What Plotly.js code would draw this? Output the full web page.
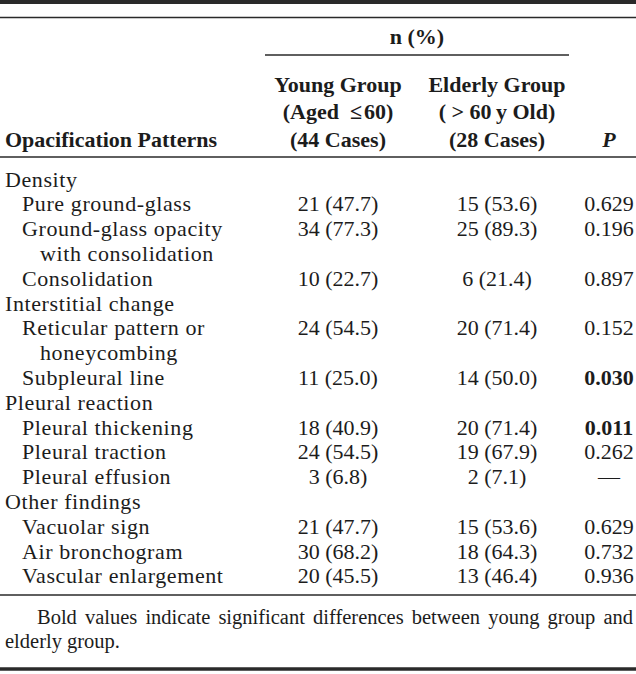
<!DOCTYPE html>
<html><head><meta charset="utf-8">
<script src="https://cdn.plot.ly/plotly-3.0.1.min.js"></script>
<style>
html,body{margin:0;padding:0;background:#fff;overflow:hidden;}
/* body row labels are typeset with slight tracking in the source table */
#chart .scatterlayer .trace:nth-child(1) text{letter-spacing:0.6px;}
</style>
</head><body><div id="chart" style="width:636px;height:674px;"></div>
<script>
// ---- data ----
const groups = ["Density", "Interstitial change", "Pleural reaction", "Other findings"];
const patternGroup = [0, 0, 0, 1, 1, 2, 2, 2, 3, 3, 3];
const patterns = ["Pure ground-glass", "Ground-glass opacity|with consolidation", "Consolidation",
  "Reticular pattern or|honeycombing", "Subpleural line",
  "Pleural thickening", "Pleural traction", "Pleural effusion",
  "Vacuolar sign", "Air bronchogram", "Vascular enlargement"];
const youngN = [21, 34, 10, 24, 11, 18, 24, 3, 21, 30, 20];
const youngPct = [47.7, 77.3, 22.7, 54.5, 25.0, 40.9, 54.5, 6.8, 47.7, 68.2, 45.5];
const elderlyN = [15, 25, 6, 20, 14, 20, 19, 2, 15, 18, 13];
const elderlyPct = [53.6, 89.3, 21.4, 71.4, 50.0, 71.4, 67.9, 7.1, 53.6, 64.3, 46.4];
const pValues = [0.629, 0.196, 0.897, 0.152, 0.030, 0.011, 0.262, null, 0.629, 0.732, 0.936];
const spanHeader = "n (%)";
const firstHeader = "Opacification Patterns";
const groupHeaders = [["Young Group", "(Aged\u00a0 \u2264\u200a60)", "(44 Cases)"], ["Elderly Group", "( > 60\u2009y Old)", "(28 Cases)"]];
const pHeader = "P";
const footnoteLines = ["Bold values indicate significant differences between young group and", "elderly group."];

// ---- layout constants ----
const W = 636, H = 674, FS = 22, FS_NOTE = 20.5;
const FONT = '"Liberation Serif", "Times New Roman", serif';
const TXT = '#1c1c1c';
const X_GROUP = 5, X_ITEM = 22, X_CONT = 40, X_YOUNG = 338, X_ELD = 497, X_P = 609;
const ROW0 = 181, PITCH = 24.8;
const HEAD_Y = [86, 113.5, 141];

// build body lines
const lines = [];
const valueLine = [];
groups.forEach((g, gi) => {
  lines.push({t: g, x: X_GROUP});
  patterns.forEach((p, pi) => {
    if (patternGroup[pi] !== gi) return;
    valueLine[pi] = lines.length;
    p.split('|').forEach((s, k) => lines.push({t: s, x: k ? X_CONT : X_ITEM}));
  });
});
const lineY = i => ROW0 + i * PITCH;
const font = (extra) => Object.assign({family: FONT, size: FS, color: TXT}, extra || {});
const base = {type: 'scatter', mode: 'text', hoverinfo: 'skip', cliponaxis: false, showlegend: false};

const traces = [];
traces.push(Object.assign({}, base, {
  x: lines.map(l => l.x), y: lines.map((l, i) => lineY(i)), text: lines.map(l => l.t),
  textposition: 'middle right', textfont: font()
}));
const vy = valueLine.map(lineY);
traces.push(Object.assign({}, base, {
  x: vy.map(() => X_YOUNG), y: vy, text: youngN.map((n, i) => n + ' (' + youngPct[i].toFixed(1) + ')'),
  textposition: 'middle center', textfont: font()
}));
traces.push(Object.assign({}, base, {
  x: vy.map(() => X_ELD), y: vy, text: elderlyN.map((n, i) => n + ' (' + elderlyPct[i].toFixed(1) + ')'),
  textposition: 'middle center', textfont: font()
}));
traces.push(Object.assign({}, base, {
  x: vy.map(() => X_P), y: vy,
  text: pValues.map(p => p == null ? '\u2014' : (p < 0.05 ? '<b>' + p.toFixed(3) + '</b>' : p.toFixed(3))),
  textposition: 'middle center', textfont: font()
}));
// headers
const hx = [], hy = [], ht = [];
groupHeaders.forEach((col, ci) => col.forEach((s, k) => { hx.push(ci ? X_ELD : X_YOUNG); hy.push(HEAD_Y[k]); ht.push('<b>' + s + '</b>'); }));
hx.push(417); hy.push(38); ht.push('<b>' + spanHeader + '</b>');
hx.push(X_P); hy.push(HEAD_Y[2]); ht.push('<b><i>' + pHeader + '</i></b>');
traces.push(Object.assign({}, base, {x: hx, y: hy, text: ht, textposition: 'middle center', textfont: font()}));
traces.push(Object.assign({}, base, {x: [X_GROUP], y: [HEAD_Y[2]], text: ['<b>' + firstHeader + '</b>'], textposition: 'middle right', textfont: font()}));

// footnote (justified first line)
const ctx = document.createElement('canvas').getContext('2d');
ctx.font = FS_NOTE + 'px "Liberation Serif"';
const fx = [], fy = [], ft = [];
const words1 = footnoteLines[0].split(' ');
const widths = words1.map(w => ctx.measureText(w).width);
const L0 = 37, R0 = 633;
const gap = (R0 - L0 - widths.reduce((a, b) => a + b, 0)) / (words1.length - 1);
let cx = L0;
words1.forEach((w, i) => { fx.push(cx); fy.push(619); ft.push(w); cx += widths[i] + gap; });
fx.push(X_GROUP); fy.push(643); ft.push(footnoteLines[1]);
traces.push(Object.assign({}, base, {x: fx, y: fy, text: ft, textposition: 'middle right', textfont: font({size: FS_NOTE})}));

const hl = (y, w, x0, x1) => ({type: 'line', xref: 'x', yref: 'y', x0: x0 == null ? 0 : x0, x1: x1 == null ? W : x1, y0: y, y1: y, line: {color: '#2a2a2a', width: w}});
const layout = {
  width: W, height: H, margin: {l: 0, r: 0, t: 0, b: 0},
  paper_bgcolor: '#fff', plot_bgcolor: '#fff',
  xaxis: {range: [0, W], visible: false, fixedrange: true},
  yaxis: {range: [H, 0], visible: false, fixedrange: true},
  shapes: [hl(2, 4), hl(17.5, 1.6), hl(55, 1.5, 265, 569), hl(157, 1.6), hl(595, 1.6), hl(669, 3.5)]
};
Plotly.newPlot('chart', traces, layout, {staticPlot: true, displayModeBar: false});
</script></body></html>
